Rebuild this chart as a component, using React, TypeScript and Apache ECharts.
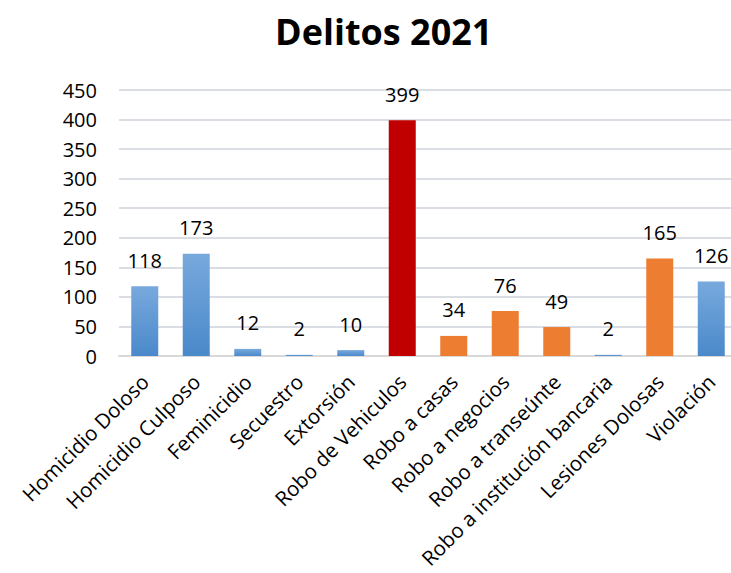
import React, { useEffect, useRef } from "react";
import * as echarts from "echarts";

const titleText = "Delitos 2021";
const categories = [
  "Homicidio Doloso",
  "Homicidio Culposo",
  "Feminicidio",
  "Secuestro",
  "Extorsión",
  "Robo de Vehiculos",
  "Robo a casas",
  "Robo a negocios",
  "Robo a transeúnte",
  "Robo a institución bancaria",
  "Lesiones Dolosas",
  "Violación",
];
const values = [118, 173, 12, 2, 10, 399, 34, 76, 49, 2, 165, 126];
const groups = ["blue", "blue", "blue", "blue", "blue", "red", "orange", "orange", "orange", "blue", "orange", "blue"];
const yTicks = { min: 0, max: 450, interval: 50 };

const FONT = "'Open Sans', 'Noto Sans', sans-serif";

function colorFor(g: string) {
  if (g === "red") return "#c00000";
  if (g === "orange") return "#ed7d31";
  return new echarts.graphic.LinearGradient(0, 0, 0, 1, [
    { offset: 0, color: "#78a9dd" },
    { offset: 1, color: "#4a89ca" },
  ]);
}

export default function App() {
  const ref = useRef<HTMLDivElement>(null);
  useEffect(() => {
    document.body.style.margin = "0";
    if (!ref.current) return;
    const chart = echarts.init(ref.current, null, { renderer: "svg" });
    chart.setOption({
      animation: false,
      backgroundColor: "#ffffff",
      title: {
        text: titleText,
        left: 270,
        top: 8,
        textStyle: { fontFamily: FONT, fontWeight: "bold", fontSize: 36, color: "#000000" },
      },
      grid: {
        left: 119,
        right: -6,
        top: 90,
        bottom: 217,
        containLabel: false,
        outerBoundsMode: "none",
      },
      xAxis: {
        type: "category",
        data: categories,
        axisLine: { show: true, lineStyle: { color: "#d9d9d9", width: 2 } },
        axisTick: { show: false },
        axisLabel: {
          interval: 0,
          rotate: 45,
          margin: 22,
          fontFamily: FONT,
          fontSize: 20.5,
          color: "#000000",
        },
      },
      yAxis: {
        type: "value",
        min: yTicks.min,
        max: yTicks.max,
        interval: yTicks.interval,
        axisLine: { show: false },
        axisTick: { show: false },
        splitLine: { lineStyle: { color: "#dadee4", width: 2 } },
        axisLabel: { margin: 22, fontFamily: FONT, fontSize: 20, color: "#000000" },
      },
      series: [
        {
          type: "bar",
          barWidth: 27,
          data: values.map((v, i) => ({ value: v, itemStyle: { color: colorFor(groups[i]) } })),
          label: {
            show: true,
            position: "top",
            distance: 16,
            fontFamily: FONT,
            fontSize: 20,
            color: "#000000",
          },
        },
      ],
    });
    return () => chart.dispose();
  }, []);
  return <div ref={ref} style={{ width: 731, height: 573 }} />;
}
